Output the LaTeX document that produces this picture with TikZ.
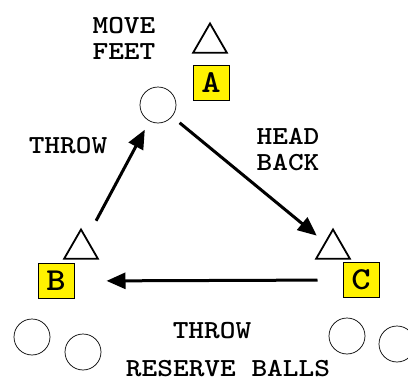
\documentclass[tikz,border=0pt]{standalone}
\usepackage{graphicx}
\usetikzlibrary{shapes.geometric,arrows.meta}

\newcommand{\cour}[1]{\scalebox{1.15}[1]{#1}}

\begin{document}
\begin{tikzpicture}[x=1pt, y=-1pt,
      every node/.style = {align=center,
        font=\ttfamily\bfseries\fontsize{26}{26}\selectfont},
      cone/.style = {regular polygon, regular polygon sides=3, draw,
        line width=1.8pt, minimum size=39pt, inner sep=0pt},
      tag/.style = {draw, fill=yellow, line width=1pt, inner sep=0pt,
        minimum width=36pt, minimum height=35pt,
        font=\ttfamily\bfseries\fontsize{32}{32}\selectfont},
      ball/.style = {circle, draw, line width=0.7pt, minimum size=36pt,
        inner sep=0pt},
      pass/.style = {line width=3pt, -{Triangle[length=19pt, width=16pt]}}]
  \useasboundingbox (0,0) rectangle (408,383);
  \node (move) at (124,38) {\cour{MOVE}\\\cour{FEET}};
  \node[cone] (coneA) at (210,43) {};
  \node[tag] (tagA) at (211,83) {\cour{A}};
  \node[ball] (ball) at (158,105) {};
  \node (throwup) at (68,146) {\cour{THROW}};
  \node (back) at (288,150) {\cour{HEAD}\\\cour{BACK}};
  \node[cone] (coneB) at (81,249) {};
  \node[tag] (tagB) at (56,281) {\cour{B}};
  \node[cone] (coneC) at (333,249) {};
  \node[tag] (tagC) at (361,280) {\cour{C}};
  \node (throwacross) at (212,331) {\cour{THROW}};
  \node[ball] (spare1) at (32,337) {};
  \node[ball] (spare2) at (83,352) {};
  \node[ball] (spare3) at (347,336) {};
  \node[ball] (spare4) at (397,344) {};
  \node[inner sep=0pt] (reserve) at (228,369) {\cour{RESERVE BALLS}};
  % passes
  \draw[pass, shorten <=32pt, shorten >=28pt] (coneB.center) -- (ball.center);
  \draw[pass, shorten <=28pt, shorten >=21pt] (ball.center) -- (coneC.center);
  \draw[pass, shorten <=25pt, shorten >=32pt] (tagC.west) -- (tagB.east);
\end{tikzpicture}
\end{document}
